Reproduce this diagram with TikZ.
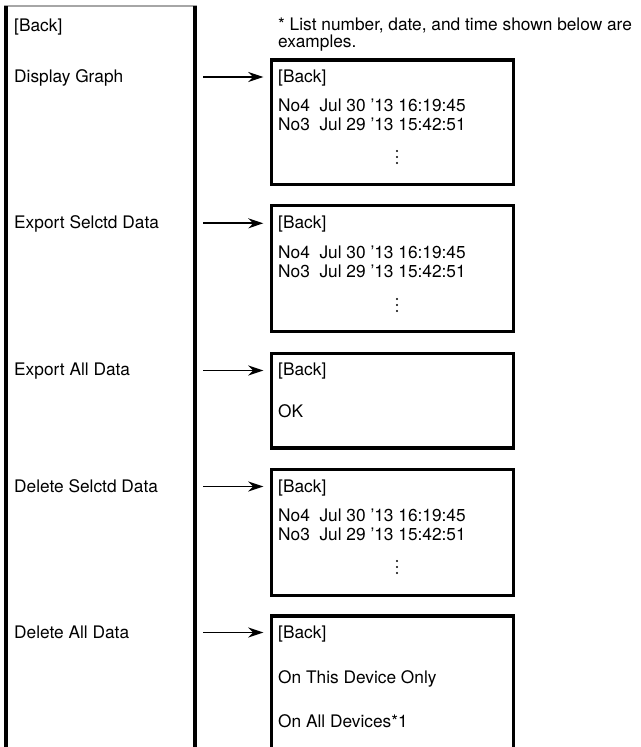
\documentclass[tikz,border=0pt]{standalone}
\usepackage{fontspec}
\setmainfont{TeX Gyre Heros}
\usetikzlibrary{arrows.meta}
\begin{document}
\begin{tikzpicture}[x=1pt,y=-1pt,
  txt/.style={anchor=base west, inner sep=0pt, font=\fontsize{17.3}{17.5}\selectfont},
  scr/.style={draw=black, line width=3.3pt, minimum width=242pt, anchor=north west, inner sep=0pt, outer sep=0pt},
  side/.style={line width=3.3pt},
  arr/.style={-{Stealth[length=15pt,width=10pt]}, line width=1.8pt, shorten >=8.2pt}]
\useasboundingbox (0,0) rectangle (640,747);
% left menu panel
\node[anchor=north west, minimum width=189pt, minimum height=780pt, inner sep=0pt, outer sep=0pt] (menu) at (6,6) {};
\draw[gray!70, line width=2.2pt] ([xshift=-1.6pt]menu.north west) -- ([xshift=1.6pt]menu.north east);
\draw[side] (menu.north west) -- (menu.south west);
\draw[side] (menu.north east) -- (menu.south east);
\node[txt] (mBack) at (14,31.5) {[Back]};
\node[txt] (mGraph) at (14,82) {Display Graph};
\node[txt] (mExpS) at (14,228.5) {Export Selctd Data};
\node[txt] (mExpA) at (14,375) {Export All Data};
\node[txt] (mDelS) at (14,492) {Delete Selctd Data};
\node[txt] (mDelA) at (14,638.5) {Delete All Data};
% note
\node[txt] (note1) at (278,30) {* List number, date, and time shown below are};
\node[txt] (note2) at (278,47) {examples.};
% screens
\node[scr, minimum height=124.5pt] (s1) at (271.5,60) {};
\node[scr, minimum height=126pt] (s2) at (271.5,205.7) {};
\node[scr, minimum height=94.7pt] (s3) at (271.5,353.3) {};
\node[scr, minimum height=125.8pt] (s4) at (271.5,469.5) {};
\node[scr, minimum height=220pt] (s5) at (271.5,616) {};
% screen 1
\node[txt] (s1b) at (278,82) {[Back]};
\node[txt] (s1a) at (278,111.5) {No4~~Jul 30 '13 16:19:45};
\node[txt] (s1c) at (278,130.5) {No3~~Jul 29 '13 15:42:51};
\foreach \y in {151,157,163} \fill (397,\y) circle (1.1pt);
% screen 2
\node[txt] (s2b) at (278,228.5) {[Back]};
\node[txt] (s2a) at (278,258) {No4~~Jul 30 '13 16:19:45};
\node[txt] (s2c) at (278,277) {No3~~Jul 29 '13 15:42:51};
\foreach \y in {299,305,311} \fill (397,\y) circle (1.1pt);
% screen 3
\node[txt] (s3b) at (278,375) {[Back]};
\node[txt] (s3o) at (278,417) {OK};
% screen 4
\node[txt] (s4b) at (278,492) {[Back]};
\node[txt] (s4a) at (278,521.5) {No4~~Jul 30 '13 16:19:45};
\node[txt] (s4c) at (278,540.5) {No3~~Jul 29 '13 15:42:51};
\foreach \y in {561,567,573} \fill (397,\y) circle (1.1pt);
% screen 5
\node[txt] (s5b) at (278,638.5) {[Back]};
\node[txt] (s5t) at (278,683.5) {On This Device Only};
\node[txt] (s5a) at (278,727) {On All Devices*1};
% arrows
\coordinate (a1) at (203,77);
\coordinate (a2) at (203,223.3);
\coordinate (a3) at (203,370.5);
\coordinate (a4) at (203,486.5);
\coordinate (a5) at (203,632.5);
\draw[arr] (a1) -- (a1 -| s1.west);
\draw[arr] (a2) -- (a2 -| s2.west);
\draw[arr] (a3) -- (a3 -| s3.west);
\draw[arr] (a4) -- (a4 -| s4.west);
\draw[arr] (a5) -- (a5 -| s5.west);
\end{tikzpicture}
\end{document}
